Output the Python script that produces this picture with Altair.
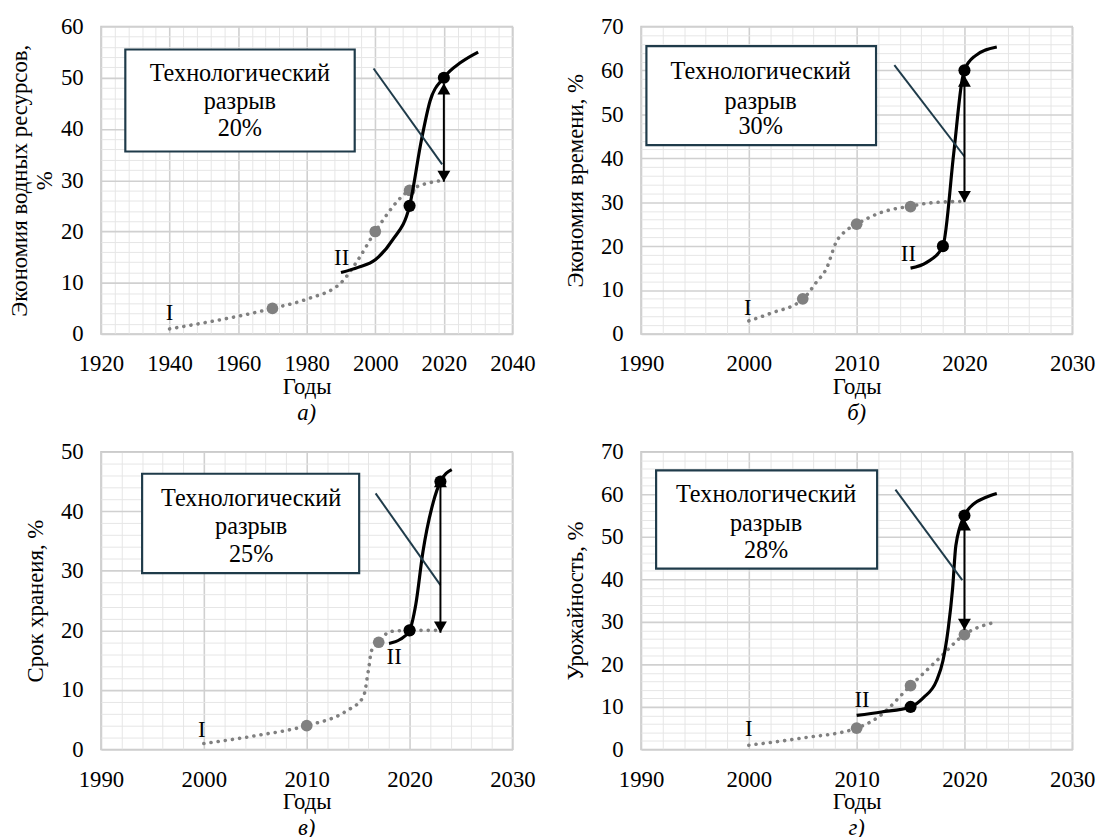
import altair as alt
import pandas as pd

FONT = "Liberation Serif"
FS = 23
FS_BOX = 24.5
GRAY = "#808080"
BOXC = "#1f3b4a"
MAJOR = "#d0d0d0"
MINOR = "#e6e6e6"

# ---------------- panel а) ----------------
a_I_year = [1940, 1970, 1980, 1990, 1995, 2000, 2010, 2020]
a_I_val = [1, 5, 6.8, 10, 14.5, 20, 28, 30]
a_I_mk_year = [1970, 2000, 2010]
a_I_mk_val = [5, 20, 28]
a_II_year = [1990, 1995, 2000, 2005, 2010, 2013.5, 2016, 2020, 2025, 2030]
a_II_val = [12, 13, 14.5, 18.3, 25, 38, 45.5, 50, 53, 55]
a_II_mk_year = [2010, 2020]
a_II_mk_val = [25, 50]

# ---------------- panel б) ----------------
b_I_year = [2000, 2002, 2005, 2006.3, 2007.2, 2008.1, 2009, 2010, 2012.2, 2015, 2017.1, 2020]
b_I_val = [3, 4.7, 7.9, 11.9, 14.9, 20.9, 23.5, 25, 27.6, 29.1, 29.9, 30.2]
b_I_mk_year = [2005, 2010, 2015]
b_I_mk_val = [8, 25, 29]
b_II_year = [2015, 2016.5, 2018, 2019, 2019.8, 2020, 2021, 2023]
b_II_val = [15, 16.3, 20, 41, 58, 60, 63.3, 65.3]
b_II_mk_year = [2018, 2020]
b_II_mk_val = [20, 60]

# ---------------- panel в) ----------------
c_I_year = [2000, 2005, 2010, 2013.8, 2015.5, 2016, 2016.3, 2017, 2018.1, 2020, 2023]
c_I_val = [1, 2.3, 4, 6.4, 8.8, 13.3, 16.6, 18, 19.8, 20, 20]
c_I_mk_year = [2010, 2017, 2020]
c_I_mk_val = [4, 18, 20]
c_II_year = [2018, 2019.1, 2020, 2020.6, 2021.3, 2022.3, 2023, 2024.1]
c_II_val = [17.8, 18.5, 20, 24.3, 33.2, 41.5, 45, 47]
c_II_mk_year = [2020, 2023]
c_II_mk_val = [20, 45]

# ---------------- panel г) ----------------
d_I_year = [2000, 2005, 2010, 2012, 2015, 2017.4, 2020, 2023]
d_I_val = [1, 2.7, 5, 7.6, 15, 20.8, 27, 30]
d_I_mk_year = [2010, 2015, 2020]
d_I_mk_val = [5, 15, 27]
d_II_year = [2010, 2012.3, 2015, 2016.2, 2017.4, 2018, 2018.5, 2018.9, 2019.2, 2020, 2020.8, 2022, 2023]
d_II_val = [8, 8.8, 10, 12.2, 16.1, 20.8, 28.5, 37.8, 47.9, 55, 57.6, 59.3, 60.2]
d_II_mk_year = [2015, 2020]
d_II_mk_val = [10, 55]

# axis settings per panel
x_domains = {"a": [1920, 2040], "b": [1990, 2030], "c": [1990, 2030], "d": [1990, 2030]}
y_domains = {"a": [0, 60], "b": [0, 70], "c": [0, 50], "d": [0, 70]}
x_major = {"a": list(range(1920, 2041, 20)), "b": list(range(1990, 2031, 10)),
           "c": list(range(1990, 2031, 10)), "d": list(range(1990, 2031, 10))}
x_minor = {"a": [v for v in range(1920, 2041, 4) if v % 20],
           "b": [v for v in range(1990, 2031, 2) if v % 10],
           "c": [v for v in range(1990, 2031, 2) if v % 10],
           "d": [v for v in range(1990, 2031, 2) if v % 10]}
y_major = {k: list(range(0, v[1] + 1, 10)) for k, v in y_domains.items()}
y_minor = {k: [t for t in range(0, v[1] + 1, 2) if t % 10] for k, v in y_domains.items()}
y_titles = {"a": ["Экономия водных ресурсов,", "%"], "b": "Экономия времени,  %",
            "c": "Срок хранеия, %", "d": "Урожайность, %"}
y_title_pad = {"a": 4, "b": 13, "c": 13, "d": 13}
subtitles = {"a": "а)", "b": "б)", "c": "в)", "d": "г)"}

# annotation content: box corners, text lines, leader line, gap arrow, roman labels
box = {"a": [1927.1, 1994.0, 35.6, 55.5], "b": [1990.5, 2011.8, 43.0, 65.5],
       "c": [1994.0, 2015.1, 29.6, 46.3], "d": [1991.4, 2011.9, 42.5, 65.6]}
box_text_x = {"a": 1960.5, "b": 2001.1, "c": 2004.6, "d": 2001.6}
box_text_y = {"a": [50.8, 45.3, 39.9], "b": [59.7, 52.7, 47.0],
              "c": [42.0, 37.3, 32.6], "d": [59.9, 52.9, 46.7]}
box_lines = {"a": ["Технологический", "разрыв", "20%"],
             "b": ["Технологический", "разрыв", "30%"],
             "c": ["Технологический", "разрыв", "25%"],
             "d": ["Технологический", "разрыв", "28%"]}
leader = {"a": [1999.5, 51.8, 2019.5, 33.1], "b": [2013.5, 61.2, 2020, 40.4],
          "c": [2016.7, 43.0, 2023, 27.6], "d": [2013.6, 61.1, 2019.8, 39.8]}
arrow = {"a": [2020, 29.7, 48.9], "b": [2020, 30.0, 58.8],
         "c": [2023, 19.6, 45.9], "d": [2020, 28.1, 54.1]}
roman = {"a": [[1940, 4.0, "I"], [1990.2, 14.8, "II"]],
         "b": [[1999.9, 5.9, "I"], [2014.8, 18.2, "II"]],
         "c": [[1999.8, 3.3, "I"], [2018.5, 15.5, "II"]],
         "d": [[2000, 4.9, "I"], [2010.5, 11.5, "II"]]}

series = {
    "a": (a_I_year, a_I_val, a_I_mk_year, a_I_mk_val, a_II_year, a_II_val, a_II_mk_year, a_II_mk_val),
    "b": (b_I_year, b_I_val, b_I_mk_year, b_I_mk_val, b_II_year, b_II_val, b_II_mk_year, b_II_mk_val),
    "c": (c_I_year, c_I_val, c_I_mk_year, c_I_mk_val, c_II_year, c_II_val, c_II_mk_year, c_II_mk_val),
    "d": (d_I_year, d_I_val, d_I_mk_year, d_I_mk_val, d_II_year, d_II_val, d_II_mk_year, d_II_mk_val),
}
sizes = {"a": (416, 311), "b": (436, 311), "c": (416, 301), "d": (436, 301)}

X = alt.X("x:Q", axis=None)
Y = alt.Y("y:Q", axis=None)


def panel(k):
    Iy, Iv, Imy, Imv, IIy, IIv, IImy, IImv = series[k]
    xs = alt.Scale(domain=x_domains[k], nice=False, zero=False)
    ys = alt.Scale(domain=y_domains[k], nice=False, zero=True)
    dI = pd.DataFrame({"x": Iy, "y": Iv})
    dImk = pd.DataFrame({"x": Imy, "y": Imv})
    dII = pd.DataFrame({"x": IIy, "y": IIv})
    dIImk = pd.DataFrame({"x": IImy, "y": IImv})

    minor_ax_x = alt.Axis(orient="top", values=x_minor[k], labels=False, ticks=False,
                          domain=False, grid=True, gridColor=MINOR, gridWidth=1, title=None)
    minor_ax_y = alt.Axis(orient="right", values=y_minor[k], labels=False, ticks=False,
                          domain=False, grid=True, gridColor=MINOR, gridWidth=1, title=None)
    major_ax_x = alt.Axis(orient="bottom", values=x_major[k], format="d", grid=True,
                          gridColor=MAJOR, gridWidth=1.6, ticks=False, domain=False,
                          labelFlush=False, labelOverlap=False,
                          labelFont=FONT, labelFontSize=FS, labelColor="black", labelPadding=19,
                          title="Годы", titleFont=FONT, titleFontSize=FS, titleFontWeight="normal",
                          titleColor="black", titlePadding=0)
    major_ax_y = alt.Axis(orient="left", values=y_major[k], grid=True,
                          gridColor=MAJOR, gridWidth=1.6, ticks=False, domain=False,
                          labelFlush=False, labelOverlap=False,
                          labelFont=FONT, labelFontSize=FS, labelColor="black", labelPadding=18,
                          title=y_titles[k], titleFont=FONT, titleFontSize=FS,
                          titleFontWeight="normal", titleColor="black",
                          titlePadding=y_title_pad[k], titleLineHeight=25)

    grid_minor = alt.Chart(dI).mark_point(opacity=0).encode(
        x=alt.X("x:Q", scale=xs, axis=minor_ax_x),
        y=alt.Y("y:Q", scale=ys, axis=minor_ax_y))
    line_I = alt.Chart(dI).mark_line(
        color=GRAY, strokeWidth=3.6, strokeDash=[0.1, 7.2], strokeCap="round",
        interpolate="monotone").encode(
        x=alt.X("x:Q", scale=xs, axis=major_ax_x),
        y=alt.Y("y:Q", scale=ys, axis=major_ax_y))
    mk_I = alt.Chart(dImk).mark_circle(color=GRAY, opacity=1, size=140).encode(x=X, y=Y)
    line_II = alt.Chart(dII).mark_line(color="black", strokeWidth=3.2,
                                       interpolate="monotone").encode(x=X, y=Y)
    mk_II = alt.Chart(dIImk).mark_circle(color="black", opacity=1, size=150).encode(x=X, y=Y)

    bx = box[k]
    dbox = pd.DataFrame({"x": [bx[0]], "x2": [bx[1]], "y": [bx[2]], "y2": [bx[3]]})
    rect = alt.Chart(dbox).mark_rect(fill="white", stroke=BOXC, strokeWidth=2.2).encode(
        x=X, x2="x2:Q", y=Y, y2="y2:Q")
    dtext = pd.DataFrame({"x": [box_text_x[k]] * 3, "y": box_text_y[k], "t": box_lines[k]})
    btext = alt.Chart(dtext).mark_text(font=FONT, fontSize=FS_BOX, color="black",
                                       baseline="middle", align="center").encode(
        x=X, y=Y, text="t:N")
    ld = leader[k]
    dlead = pd.DataFrame({"x": [ld[0]], "y": [ld[1]], "x2": [ld[2]], "y2": [ld[3]]})
    lead = alt.Chart(dlead).mark_rule(color=BOXC, strokeWidth=2).encode(
        x=X, y=Y, x2="x2:Q", y2="y2:Q")
    ar = arrow[k]
    darr = pd.DataFrame({"x": [ar[0]], "y": [ar[1]], "y2": [ar[2]]})
    arr_line = alt.Chart(darr).mark_rule(color="black", strokeWidth=2).encode(
        x=X, y=Y, y2="y2:Q")
    d_up = pd.DataFrame({"x": [ar[0]], "y": [ar[2]]})
    d_dn = pd.DataFrame({"x": [ar[0]], "y": [ar[1]]})
    head_up = alt.Chart(d_up).mark_point(shape="triangle-up", filled=True, color="black",
                                         opacity=1, size=170, yOffset=5.6).encode(x=X, y=Y)
    head_dn = alt.Chart(d_dn).mark_point(shape="triangle-down", filled=True, color="black",
                                         opacity=1, size=170, yOffset=-5.6).encode(x=X, y=Y)
    droman = pd.DataFrame({"x": [r[0] for r in roman[k]], "y": [r[1] for r in roman[k]],
                           "t": [r[2] for r in roman[k]]})
    rtext = alt.Chart(droman).mark_text(font=FONT, fontSize=FS, color="black",
                                        baseline="middle", align="center").encode(
        x=X, y=Y, text="t:N")

    w, h = sizes[k]
    return alt.layer(
        grid_minor, line_I, rect, btext, mk_I, line_II, lead, arr_line, head_up, head_dn,
        mk_II, rtext
    ).resolve_axis(x="independent", y="independent").properties(
        width=w, height=h,
        title=alt.TitleParams(subtitles[k], orient="bottom", font=FONT, fontSize=FS,
                              fontStyle="italic", fontWeight="normal", color="black",
                              offset=4, anchor="middle"))


chart = alt.concat(panel("a"), panel("b"), panel("c"), panel("d"), columns=2,
                   spacing={"row": 14, "column": 28}).properties(
    padding={"left": 0, "top": 2, "right": 0, "bottom": 0}
).configure_view(stroke="#c6c6c6", strokeWidth=1.5)

chart.save("out.html", embed_options={"renderer": "svg", "actions": False})
